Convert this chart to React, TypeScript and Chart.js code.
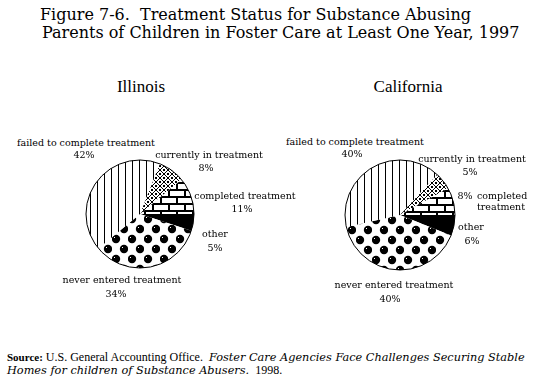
import React, { useEffect, useRef } from "react";
import { Chart, registerables } from "chart.js";
Chart.register(...registerables);

// ---- data ----
const categories = [
  "other",
  "never entered treatment",
  "failed to complete treatment",
  "currently in treatment",
  "completed treatment",
];
const illinoisValues = [5, 34, 42, 8, 11];
const californiaValues = [6, 40, 40, 5, 8];
const stateNames = ["Illinois", "California"];
const titleLines = [
  "Figure 7-6.  Treatment Status for Substance Abusing",
  "Parents of Children in Foster Care at Least One Year, 1997",
];
const sourceLabel = "Source:";
const sourceOrg = "U.S. General Accounting Office.";
const sourceTitle1 = "Foster Care Agencies Face Challenges Securing Stable";
const sourceTitle2 = "Homes for children of Substance Abusers.";
const sourceYear = "1998.";

// ---- patterns ----
function tile(w: number, h: number, draw: (c: CanvasRenderingContext2D) => void) {
  const cv = document.createElement("canvas");
  cv.width = w;
  cv.height = h;
  const c = cv.getContext("2d")!;
  c.fillStyle = "#fff";
  c.fillRect(0, 0, w, h);
  c.fillStyle = "#000";
  draw(c);
  return cv;
}

function makePatterns(ctx: CanvasRenderingContext2D): (CanvasPattern | string)[] {
  const stripes = tile(7, 7, (c) => c.fillRect(3, 0, 1, 7));
  const trellis = tile(8, 8, (c) => {
    for (let i = 0; i < 8; i++) {
      c.fillRect(i, i, 1, 1);
      c.fillRect(7 - i, i, 1, 1);
    }
    c.fillRect(3, 0, 2, 1);
    c.fillRect(3, 7, 2, 1);
    c.fillRect(0, 3, 1, 2);
    c.fillRect(7, 3, 1, 2);
  });
  const bricks = tile(16, 14, (c) => {
    c.fillRect(0, 0, 16, 2);
    c.fillRect(0, 7, 16, 2);
    c.fillRect(0, 0, 2, 7);
    c.fillRect(8, 7, 2, 7);
  });
  const dots = tile(16, 20, (c) => {
    const dot = (x: number, y: number) => {
      c.fillStyle = "#000";
      c.beginPath();
      c.arc(x, y, 4.2, 0, Math.PI * 2);
      c.fill();
      c.fillStyle = "#fff";
      c.fillRect(x - 2, y - 2, 1, 1);
    };
    dot(4, 5);
    dot(12, 15);
  });
  return [
    "#000",
    ctx.createPattern(dots, "repeat")!,
    ctx.createPattern(stripes, "repeat")!,
    ctx.createPattern(trellis, "repeat")!,
    ctx.createPattern(bricks, "repeat")!,
  ];
}

const outlinePlugin = {
  id: "outline",
  afterDatasetsDraw(chart: any) {
    const arc = chart.getDatasetMeta(0).data[0] as any;
    if (!arc) return;
    const c = chart.ctx as CanvasRenderingContext2D;
    c.save();
    c.strokeStyle = "#000";
    c.lineWidth = 1;
    c.beginPath();
    c.arc(arc.x, arc.y, arc.outerRadius, 0, Math.PI * 2);
    c.stroke();
    c.restore();
  },
};

function Pie({ values, left, top, size, pad }: { values: number[]; left: number; top: number; size: number; pad: number }) {
  const ref = useRef<HTMLCanvasElement>(null);
  useEffect(() => {
    const cv = ref.current!;
    const ctx = cv.getContext("2d")!;
    const chart = new Chart(ctx, {
      type: "pie",
      data: {
        labels: categories,
        datasets: [
          {
            data: values,
            backgroundColor: makePatterns(ctx) as any,
            borderWidth: 0,
          },
        ],
      },
      options: {
        responsive: false,
        animation: false,
        rotation: 90,
        layout: { padding: pad },
        plugins: { legend: { display: false }, tooltip: { enabled: false } },
      },
      plugins: [outlinePlugin],
    });
    return () => chart.destroy();
  }, []);
  return (
    <canvas
      ref={ref}
      width={size}
      height={size}
      style={{ position: "absolute", left, top, width: size, height: size }}
    />
  );
}

const lib = '"Liberation Serif", "Times New Roman", serif';
const dvs = '"DejaVu Serif", serif';

function T({ x, y, children, size = 9.5, align = "center", family = dvs, style = {} }: any) {
  const tx = align === "center" ? "-50%" : align === "right" ? "-100%" : "0";
  return (
    <div
      style={{
        position: "absolute",
        left: x,
        top: y,
        transform: `translate(${tx}, -50%)`,
        whiteSpace: "pre",
        fontSize: size,
        fontFamily: family,
        lineHeight: 1,
        ...style,
      }}
    >
      {children}
    </div>
  );
}

export default function App() {
  const pct = (v: number) => `${v}%`;
  return (
    <div
      style={{
        position: "absolute",
        left: 0,
        top: 0,
        width: 539,
        height: 389,
        background: "#fff",
        overflow: "hidden",
        fontFamily: lib,
        color: "#000",
      }}
    >
      <T x={40} y={14.5} size={16} align="left">{titleLines[0]}</T>
      <T x={42} y={32.5} size={16} align="left">{titleLines[1]}</T>

      <T x={141} y={86} size={17} family={lib}>{stateNames[0]}</T>
      <T x={408} y={86} size={17} family={lib}>{stateNames[1]}</T>

      <Pie values={illinoisValues} left={80} top={154} size={120} pad={6} />
      <Pie values={californiaValues} left={340} top={155} size={120} pad={5} />

      {/* Illinois labels */}
      <T x={86} y={143}>{categories[2]}</T>
      <T x={84} y={155}>{pct(illinoisValues[2])}</T>
      <T x={209} y={155}>{categories[3]}</T>
      <T x={206} y={168}>{pct(illinoisValues[3])}</T>
      <T x={245} y={196}>{categories[4]}</T>
      <T x={242} y={209}>{pct(illinoisValues[4])}</T>
      <T x={215} y={234}>{categories[0]}</T>
      <T x={215} y={248}>{pct(illinoisValues[0])}</T>
      <T x={122} y={280}>{categories[1]}</T>
      <T x={116} y={294}>{pct(illinoisValues[1])}</T>

      {/* California labels */}
      <T x={355} y={142}>{categories[2]}</T>
      <T x={352} y={154}>{pct(californiaValues[2])}</T>
      <T x={472} y={159}>{categories[3]}</T>
      <T x={470} y={172}>{pct(californiaValues[3])}</T>
      <T x={465} y={196}>{pct(californiaValues[4])}</T>
      <T x={477} y={201} align="left" style={{ lineHeight: "11px" }}>
        {categories[4].replace(" ", "\n")}
      </T>
      <T x={471} y={227}>{categories[0]}</T>
      <T x={472} y={241}>{pct(californiaValues[0])}</T>
      <T x={394} y={285}>{categories[1]}</T>
      <T x={390} y={299}>{pct(californiaValues[1])}</T>

      {/* Source */}
      <T x={7} y={357} size={12} align="left" family={lib}>
        <b style={{ fontSize: 11 }}>{sourceLabel}</b> {sourceOrg}{"  "}
        <i style={{ fontFamily: dvs, fontSize: 11.3 }}>{sourceTitle1}</i>
      </T>
      <T x={7} y={370} size={12} align="left" family={lib}>
        <i style={{ fontFamily: dvs, fontSize: 11.3 }}>{sourceTitle2}</i>{"  "}{sourceYear}
      </T>
    </div>
  );
}
